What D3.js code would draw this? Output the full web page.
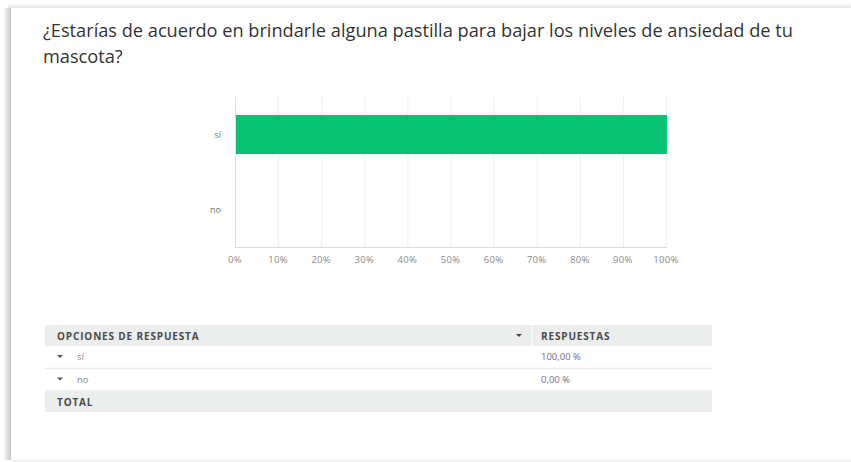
<!DOCTYPE html>
<html>
<head>
<meta charset="utf-8">
<script src="https://cdn.jsdelivr.net/npm/d3@7"></script>
<style>
  body { margin: 0; background: #fff; }
  svg { display: block; }
</style>
</head>
<body>
<div id="container"></div>
<script>
/* DATA */
const titleLines = ['¿Estarías de acuerdo en brindarle alguna pastilla para bajar los niveles de ansiedad de tu', 'mascota?'];
const categories = ['sí', 'no'];
const percents = [100, 0];
const xTicks = [0, 10, 20, 30, 40, 50, 60, 70, 80, 90, 100];
const tableHeaders = ['OPCIONES DE RESPUESTA', 'RESPUESTAS'];
const totalLabel = 'TOTAL';

/* CONSTANTS */
const width = 851;
const height = 462;
const plot = { left: 235, right: 666, top: 97, bottom: 247 };

const svg = d3.select('#container')
  .append('svg')
  .attr('width', width)
  .attr('height', height)
  .style('font-family', 'Open Sans, sans-serif');

/* card + shadow */
const defs = svg.append('defs');
const lg = defs.append('linearGradient').attr('id', 'lsh').attr('x1', 0).attr('x2', 1);
lg.append('stop').attr('offset', 0).attr('stop-color', '#fff');
lg.append('stop').attr('offset', 1).attr('stop-color', '#c8c8c8');
const tg = defs.append('linearGradient').attr('id', 'tsh').attr('x1', 0).attr('x2', 0).attr('y1', 0).attr('y2', 1);
tg.append('stop').attr('offset', 0).attr('stop-color', '#fff');
tg.append('stop').attr('offset', 1).attr('stop-color', '#e4e4e4');

svg.append('rect').attr('x', 3).attr('y', 8).attr('width', 8).attr('height', 452).attr('fill', 'url(#lsh)');
svg.append('rect').attr('x', 8).attr('y', 3).attr('width', 843).attr('height', 5).attr('fill', 'url(#tsh)');
svg.append('rect').attr('x', 11).attr('y', 8).attr('width', 840).attr('height', 452).attr('fill', '#fff');
svg.append('line').attr('x1', 11).attr('x2', 851).attr('y1', 460.5).attr('y2', 460.5).attr('stroke', '#ececec');

/* title */
svg.append('g').selectAll('text')
  .data(titleLines)
  .join('text')
  .attr('x', 43)
  .attr('y', (d, i) => 37 + i * 26)
  .attr('font-size', 18.2)
  .attr('fill', '#333')
  .text(d => d);

/* SCALES */
const xScale = d3.scaleLinear()
  .domain([0, 100])
  .range([plot.left, plot.right]);

const yScale = d3.scaleBand()
  .domain(categories)
  .range([plot.top, plot.bottom])
  .paddingInner(0.48)
  .paddingOuter(0.24);

/* gridlines */
svg.append('g').selectAll('line')
  .data(xTicks.slice(1))
  .join('line')
  .attr('x1', d => xScale(d) + 0.5)
  .attr('x2', d => xScale(d) + 0.5)
  .attr('y1', plot.top)
  .attr('y2', plot.bottom)
  .attr('stroke', '#efefef');

/* bars */
svg.append('g').selectAll('rect')
  .data(categories)
  .join('rect')
  .attr('x', xScale(0) + 1)
  .attr('y', d => yScale(d))
  .attr('width', (d, i) => xScale(percents[i]) - xScale(0))
  .attr('height', yScale.bandwidth())
  .attr('fill', '#07c273');

/* axes lines */
svg.append('line')
  .attr('x1', plot.left + 0.5).attr('x2', plot.left + 0.5)
  .attr('y1', plot.top).attr('y2', plot.bottom)
  .attr('stroke', '#dcdcdc');
svg.append('line')
  .attr('x1', plot.left).attr('x2', plot.right + 1)
  .attr('y1', plot.bottom + 0.5).attr('y2', plot.bottom + 0.5)
  .attr('stroke', '#dcdcdc');

/* x labels */
const fmtPct = d => d + '%';
svg.append('g').selectAll('text')
  .data(xTicks)
  .join('text')
  .attr('x', d => xScale(d))
  .attr('y', 263)
  .attr('text-anchor', 'middle')
  .attr('font-size', 9.5)
  .attr('letter-spacing', 0.3)
  .attr('fill', '#8a8a8a')
  .text(fmtPct);

/* y labels */
svg.append('g').selectAll('text')
  .data(categories)
  .join('text')
  .attr('x', 221)
  .attr('y', d => yScale(d) + yScale.bandwidth() / 2 + 3)
  .attr('text-anchor', 'end')
  .attr('font-size', 9)
  .attr('fill', '#777')
  .text(d => d);

/* TABLE */
const tbl = { left: 45, right: 712, div: 532, top: 325 };
const tg2 = svg.append('g').attr('font-size', 9.5);

// header
tg2.append('rect').attr('x', tbl.left).attr('y', tbl.top).attr('width', tbl.right - tbl.left).attr('height', 21).attr('fill', '#eceeed');
tg2.append('line').attr('x1', tbl.div).attr('x2', tbl.div).attr('y1', tbl.top).attr('y2', tbl.top + 21).attr('stroke', '#fff');
tg2.append('text').attr('x', 57).attr('y', tbl.top + 14.5).attr('font-size', 10).attr('letter-spacing', 0.85).attr('font-weight', 700).attr('fill', '#4a4a4a').text(tableHeaders[0]);
tg2.append('text').attr('x', 541).attr('y', tbl.top + 14.5).attr('font-size', 10).attr('letter-spacing', 0.85).attr('font-weight', 700).attr('fill', '#4a4a4a').text(tableHeaders[1]);
tg2.append('path').attr('d', `M516,${tbl.top + 9}h6l-3,3z`).attr('fill', '#444');

// rows
const fmtVal = d => d3.format('.2f')(d).replace('.', ',') + ' %';
const rows = tg2.append('g').selectAll('g')
  .data(categories)
  .join('g')
  .attr('transform', (d, i) => `translate(0,${tbl.top + 21 + i * 22.5})`);
rows.append('path').attr('d', 'M57,9h6l-3,3z').attr('fill', '#555');
rows.append('text').attr('x', 77).attr('y', 14).attr('fill', '#888').text(d => d);
rows.append('text').attr('x', 541).attr('y', 14).attr('fill', '#7a6a86').text((d, i) => fmtVal(percents[i]));
rows.append('line').attr('x1', tbl.left).attr('x2', tbl.right).attr('y1', 22.5).attr('y2', 22.5).attr('stroke', '#eceeed').attr('stroke-width', 1.5);

// total
tg2.append('rect').attr('x', tbl.left).attr('y', 391).attr('width', tbl.right - tbl.left).attr('height', 21).attr('fill', '#eceeed');
tg2.append('text').attr('x', 57).attr('y', 405.5).attr('font-size', 10).attr('letter-spacing', 0.85).attr('font-weight', 700).attr('fill', '#4a4a4a').text(totalLabel);
</script>
</body>
</html>
